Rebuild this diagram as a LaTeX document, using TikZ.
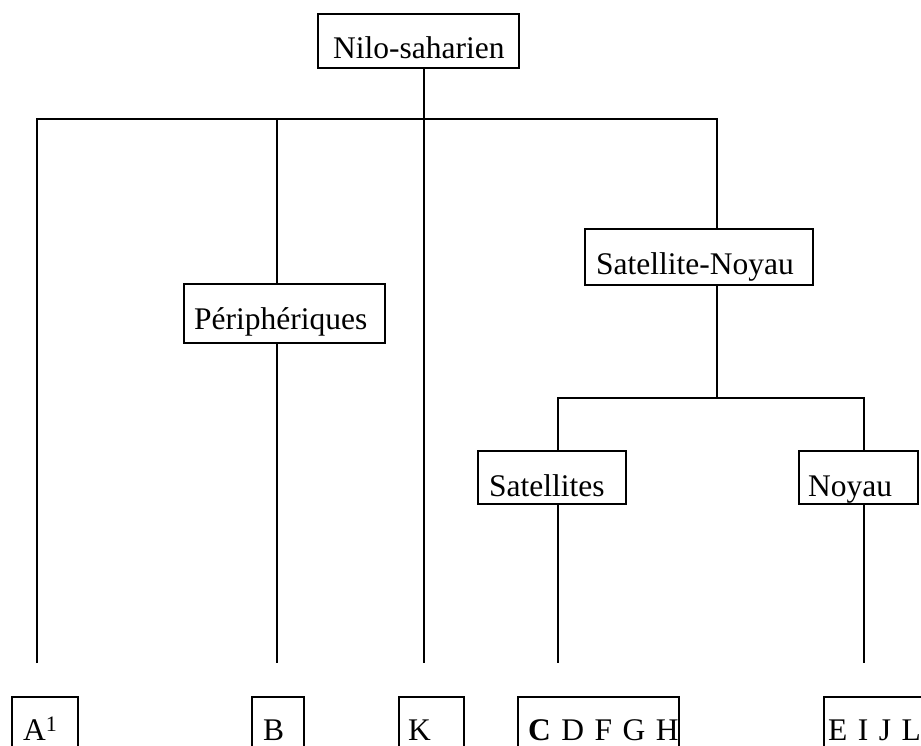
\documentclass[tikz,border=0pt]{standalone}
\usepackage{fontspec}
\setmainfont{Liberation Serif}
\tikzset{
  box/.style n args={3}{draw, line width=2.2pt, anchor=north west, inner sep=0pt,
    align=left, text width=#1, text height=#2, text depth=#3},
  branch/.style={line width=1.7pt}
}
\begin{document}
\begin{tikzpicture}[x=1pt,y=-1pt,font=\fontsize{31.5}{38}\selectfont]
    \useasboundingbox (0,0) rectangle (921,746);
    \clip (0,0) rectangle (921,746);
    \node[box={201pt}{44pt}{10pt}] (nilo) at (317,13) {\hspace*{15pt}Nilo-saharien};
    \node[box={201pt}{45pt}{14pt}] (peri) at (183,283) {\hspace*{10pt}Périphériques};
    \node[box={228pt}{45pt}{11pt}] (satnoy) at (584,228) {\hspace*{11pt}Satellite-Noyau};
    \node[box={148pt}{45pt}{8pt}] (sat) at (477,450) {\hspace*{11pt}Satellites};
    \node[box={119pt}{45pt}{8pt}] (noy) at (798,450) {\hspace*{9pt}Noyau};
    % bottom row
    \node[box={66pt}{43pt}{27pt}] (grpA) at (11,696) {\hspace*{11pt}A\textsuperscript{1}};
    \node[box={52pt}{43pt}{27pt}] (grpB) at (251,696) {\hspace*{11pt}B};
    \node[box={65pt}{43pt}{27pt}] (grpK) at (398,696) {\hspace*{9pt}K};
    \node[box={161pt}{43pt}{27pt}] (grpC) at (517,696) {\hspace*{10pt}\textbf{C} D F G H};
    \node[box={110pt}{43pt}{27pt}] (grpE) at (823,696) {\hspace*{4pt}E I J L};
    \coordinate (barR) at (717,119);
    \coordinate (subL) at (558,398);
    \coordinate (subR) at (864,398);
    \foreach \n/\x in {A/37,B/277,K/424,C/558,E/864}
        \coordinate (end\n) at (\x,663);
    \draw[branch] (nilo.south -| endK) -- (endK);
    \draw[branch] (endA) |- (barR) -- (satnoy.north -| barR);
    \draw[branch] (endB |- barR) -- (peri.north -| endB);
    \draw[branch] (peri.south -| endB) -- (endB);
    \draw[branch] (satnoy.south -| barR) -- (barR |- subL);
    \draw[branch] (sat.north -| subL) |- (subR) -- (noy.north -| subR);
    \draw[branch] (sat.south -| endC) -- (endC);
    \draw[branch] (noy.south -| endE) -- (endE);
\end{tikzpicture}
\end{document}
